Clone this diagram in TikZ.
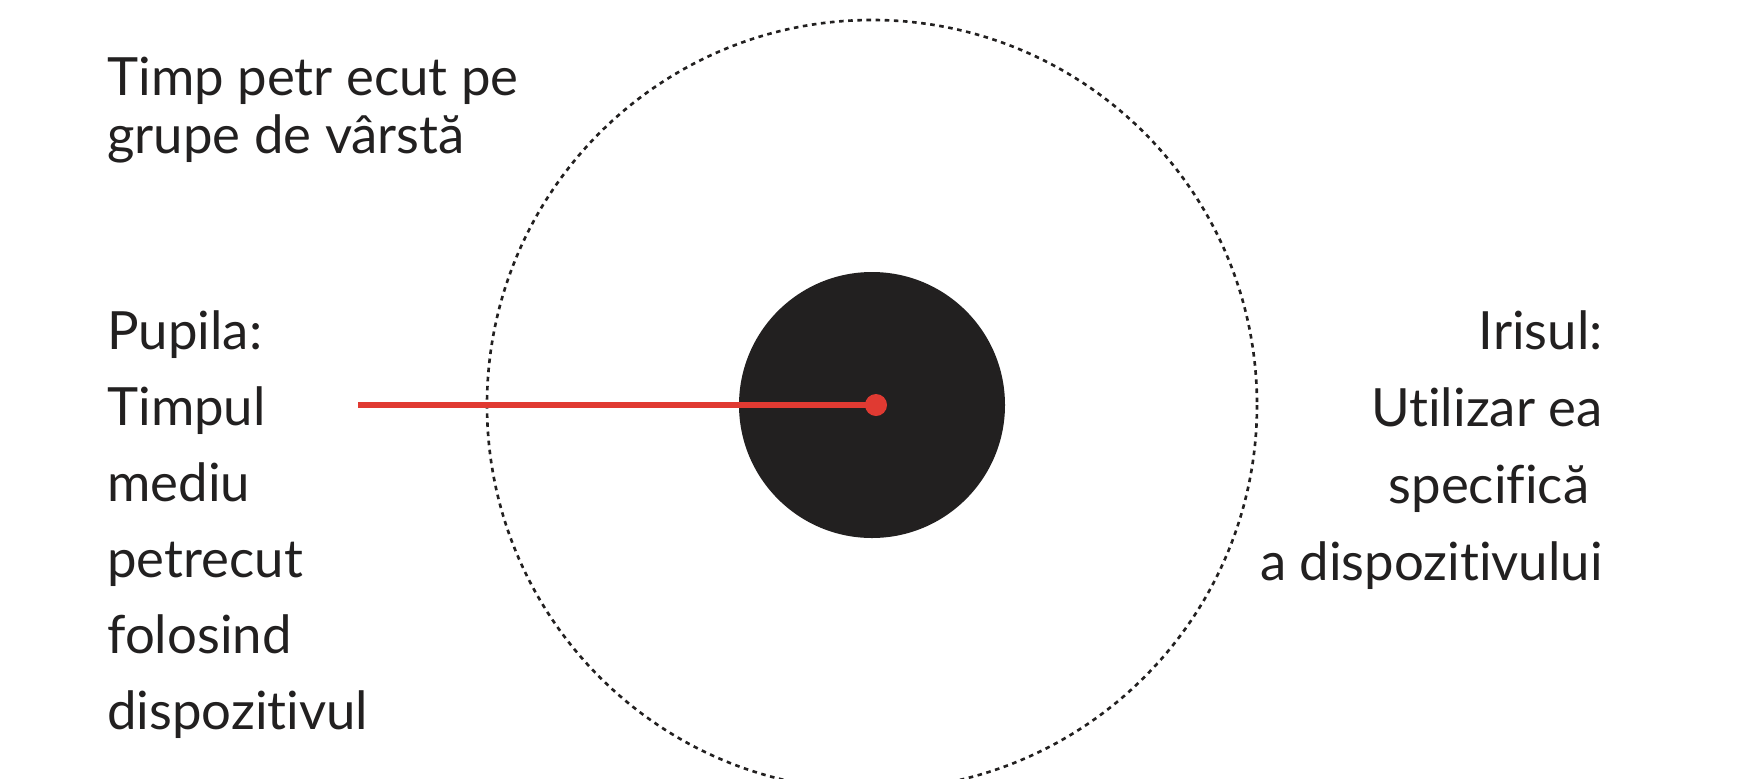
\documentclass[tikz,border=0pt]{standalone}
\usepackage{fontspec}
\setmainfont{Lato}[Ligatures={NoCommon,NoRare}, Contextuals=NoAlternate]
\definecolor{eyeblack}{HTML}{222020}
\definecolor{eyered}{HTML}{E03A32}

\tikzset{
    txt/.style={font=\fontsize{30}{40}\selectfont, text=eyeblack, inner sep=0pt},
    iris/.style={draw=eyeblack, line width=1.5pt, dash pattern=on 2.6pt off 2.6pt},
    pupil/.style={fill=eyeblack},
    pointer/.style={draw=eyered, line width=3.2pt},
    pointerdot/.style={circle, fill=eyered, inner sep=0pt, minimum size=22*0.02cm}
  }

\begin{document}
\begin{tikzpicture}[x=0.02cm, y=-0.02cm]
    \useasboundingbox (0,0) rectangle (1748,778);

    % iris and pupil
    \draw[iris] (872,405) circle (385);
    \fill[pupil] (872,405) circle (133);

    % title
    \node[txt, anchor=base west] (t1) at (107,95) {Timp petr ecut pe};
    \node[txt, anchor=base west] (t2) at (107,153) {grupe de vârstă};

    % left column
    \foreach \i/\s in {0/{Pupila:},1/Timpul,2/mediu,3/petrecut,4/folosind,5/dispozitivul} {
      \node[txt, anchor=base west] (p\i) at (107,349+76*\i) {\s};
    }

    % right column
    \foreach \i/\s in {0/{Irisul:},1/{Utilizar ea},2/{specifică\ \null},3/{a dispozitivului}} {
      \node[txt, anchor=base east] (r\i) at (1603,349+77*\i) {\s};
    }

    % pointer
    \coordinate (pstart) at (358,405);
    \node[pointerdot] (pdot) at (876,405) {};
    \draw[pointer] (pstart) -- (pdot.center);

  \end{tikzpicture}
\end{document}
